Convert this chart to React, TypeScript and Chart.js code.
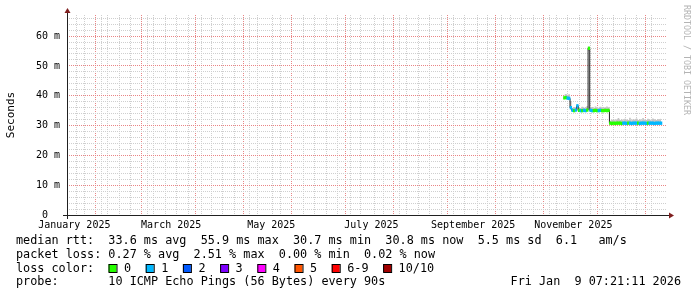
import React, { useEffect, useRef } from "react";
import { Chart, registerables } from "chart.js";

Chart.register(...registerables);

// ---- graph time window: "Last 360 Days" ending Fri Jan 9 07:21:11 2026 ----
const GRAPH_START = "2025-01-14T07:21:11Z";
const GRAPH_DAYS = 360;

// ---- daily samples (first one on Nov 10 2025) ----
const FIRST_SAMPLE = "2025-11-10T12:00:00Z";

const MEDIAN_MS = [
  39.3, 39.4, 39.2, 39.1, 36.0, 35.1, 35.0, 35.2, 36.6, 35.1,
  35.0, 35.0, 35.1, 35.0, 35.2, 55.9, 35.1, 35.0, 35.0, 35.1,
  35.0, 35.0, 35.1, 35.0, 35.0, 35.1, 35.0, 35.1, 30.8, 30.7,
  30.8, 30.7, 30.8, 30.8, 30.8, 30.7, 30.8, 30.8, 30.7, 30.8,
  30.8, 30.7, 30.8, 30.8, 30.8, 30.8, 30.7, 30.8, 30.8, 30.8,
  30.7, 30.8, 30.8, 30.8, 30.8, 30.7, 30.8, 30.8, 30.8, 30.8,
];

// lost pings per sample (index into LOSS_COLORS)
const LOSS = [
  0, 0, 1, 1, 1, 1, 0, 1, 1, 0,
  1, 0, 1, 1, 0, 0, 1, 1, 0, 0,
  0, 1, 1, 0, 0, 0, 0, 0, 0, 0,
  0, 0, 0, 0, 0, 0, 1, 1, 1, 0,
  1, 1, 1, 1, 1, 0, 1, 1, 1, 1,
  1, 0, 1, 1, 1, 1, 1, 1, 1, 1,
];

const SMOKE_LO = [
  38.9, 39.0, 38.8, 38.7, 35.5, 34.8, 34.7, 34.8, 35.0, 34.8,
  34.7, 34.7, 34.8, 34.7, 34.8, 55.0, 34.8, 34.7, 34.7, 34.8,
  34.7, 34.7, 34.8, 34.7, 34.7, 34.8, 34.7, 34.8, 30.5, 30.4,
  30.5, 30.4, 30.5, 30.5, 30.5, 30.4, 30.5, 30.5, 30.4, 30.5,
  30.5, 30.4, 30.5, 30.5, 30.5, 30.5, 30.4, 30.5, 30.5, 30.5,
  30.4, 30.5, 30.5, 30.5, 30.5, 30.4, 30.5, 30.5, 30.5, 30.5,
];

const SMOKE_HI = [
  40.4, 40.6, 40.3, 40.5, 38.2, 35.9, 36.2, 36.0, 37.2, 36.1,
  35.9, 36.3, 36.0, 36.2, 36.6, 56.5, 36.0, 36.2, 35.9, 36.4,
  36.1, 36.0, 36.3, 35.9, 36.2, 36.0, 36.4, 36.1, 31.6, 31.9,
  32.2, 31.8, 32.0, 32.5, 31.9, 32.1, 31.8, 32.3, 32.0, 31.9,
  32.6, 31.8, 32.1, 32.0, 32.4, 31.9, 32.2, 31.8, 32.5, 32.0,
  31.9, 32.3, 32.0, 31.8, 32.4, 32.1, 31.9, 32.2, 32.0, 32.3,
];

// ---- axes ----
const Y_MAX = 67.08;
const Y_LABEL_VALUES = [0, 10, 20, 30, 40, 50, 60];
const Y_LABELS = ["0  ", "10 m", "20 m", "30 m", "40 m", "50 m", "60 m"];
const X_LABEL_DATES = [
  "2025-01-16T00:00:00Z", "2025-03-16T00:00:00Z", "2025-05-16T00:00:00Z",
  "2025-07-16T00:00:00Z", "2025-09-16T00:00:00Z", "2025-11-16T00:00:00Z",
];
const X_LABELS = ["January 2025", "March 2025", "May 2025", "July 2025", "September 2025", "November 2025"];

// ---- legend ----
const LOSS_COLORS = ["#26ff00", "#00b8ff", "#0059ff", "#7e00ff", "#ff00ff", "#ff5500", "#ff0000", "#a10000"];
const LOSS_LABELS = ["0", "1", "2", "3", "4", "5", "6-9", "10/10"];
const LINE_RTT = "median rtt:  33.6 ms avg  55.9 ms max  30.7 ms min  30.8 ms now  5.5 ms sd  6.1   am/s";
const LINE_LOSS = "packet loss: 0.27 % avg  2.51 % max  0.00 % min  0.02 % now";
const LINE_COLOR = "loss color:";
const LINE_PROBE = "probe:       10 ICMP Echo Pings (56 Bytes) every 90s";
const LINE_DATE = "Fri Jan  9 07:21:11 2026";
const WATERMARK = "RRDTOOL / TOBI OETIKER";

const MONO = '"DejaVu Sans Mono", monospace';
const GRID = "#cfcfcf";
const MGRID = "#e98585";
const AXIS = "#202020";
const ARROW = "#7f1f1f";
const SMOKE = "#c4c4c4";

const DAY = 86400000;
const T0 = Date.parse(GRAPH_START);
const toDay = (ms: number) => (ms - T0) / DAY;
const key = (v: number) => v.toFixed(4);

// sample positions (days since graph start)
const SAMPLE_X = MEDIAN_MS.map((_, i) => toDay(Date.parse(FIRST_SAMPLE) + i * DAY));

// x grid: weekly (Sundays) minor, month starts major, labels mid-month
type XT = { grid: "" | "minor" | "major"; label: string };
const xTickMap = new Map<string, { value: number } & XT>();
const addX = (v: number, grid: XT["grid"], label: string) => {
  const k = key(v);
  const cur = xTickMap.get(k) || { value: v, grid: "" as XT["grid"], label: "" };
  if (grid === "major" || (grid === "minor" && cur.grid !== "major")) cur.grid = grid;
  if (label) cur.label = label;
  xTickMap.set(k, cur);
};
for (let t = Date.UTC(2025, 0, 19); toDay(t) < GRAPH_DAYS; t += 7 * DAY) addX(toDay(t), "minor", "");
for (let m = 1; m <= 12; m++) addX(toDay(Date.UTC(2025, m, 1)), "major", "");
X_LABEL_DATES.forEach((d, i) => addX(toDay(Date.parse(d)), "", X_LABELS[i]));
const X_TICKS = Array.from(xTickMap.values()).sort((a, b) => a.value - b.value);

const Y_TICKS: number[] = [];
for (let v = 0; v < Y_MAX; v += 2) Y_TICKS.push(v);

const overlay = {
  id: "rrdOverlay",
  afterDraw(chart: any) {
    const ctx: CanvasRenderingContext2D = chart.ctx;
    const { left, right, top, bottom } = chart.chartArea;
    ctx.save();
    // axes
    ctx.strokeStyle = AXIS;
    ctx.lineWidth = 1;
    ctx.beginPath();
    ctx.moveTo(left - 4, bottom + 0.5);
    ctx.lineTo(right + 4, bottom + 0.5);
    ctx.moveTo(left + 0.5, bottom + 4);
    ctx.lineTo(left + 0.5, top - 4);
    ctx.stroke();
    // arrows
    ctx.fillStyle = ARROW;
    ctx.beginPath();
    ctx.moveTo(right + 2, bottom - 3 + 0.5);
    ctx.lineTo(right + 2, bottom + 3 + 0.5);
    ctx.lineTo(right + 7, bottom + 0.5);
    ctx.closePath();
    ctx.fill();
    ctx.beginPath();
    ctx.moveTo(left - 3 + 0.5, top - 2);
    ctx.lineTo(left + 3 + 0.5, top - 2);
    ctx.lineTo(left + 0.5, top - 7);
    ctx.closePath();
    ctx.fill();

    // legend text
    ctx.font = `11.8px ${MONO}`;
    ctx.fillStyle = "#000";
    ctx.textBaseline = "middle";
    ctx.textAlign = "left";
    ctx.fillText(LINE_RTT, 16, 241);
    ctx.fillText(LINE_LOSS, 16, 255);
    ctx.fillText(LINE_COLOR, 16, 268.5);
    ctx.fillText(LINE_PROBE, 16, 282);
    ctx.textAlign = "right";
    ctx.fillText(LINE_DATE, 681, 282);
    ctx.textAlign = "left";
    const cw = ctx.measureText("0").width;
    let x = 108.5;
    LOSS_LABELS.forEach((lab, i) => {
      ctx.fillStyle = LOSS_COLORS[i];
      ctx.fillRect(x, 264, 8, 8);
      ctx.strokeStyle = "#000";
      ctx.strokeRect(x + 0.5, 264.5, 8, 8);
      ctx.fillStyle = "#000";
      ctx.fillText(lab, x + 15.5, 268.5);
      x += 15.5 + lab.length * cw + 14.6;
    });

    // watermark
    ctx.font = `8.3px ${MONO}`;
    ctx.fillStyle = "#b4b4b4";
    ctx.translate(686, 5);
    ctx.rotate(Math.PI / 2);
    ctx.textBaseline = "middle";
    ctx.textAlign = "left";
    ctx.fillText(WATERMARK, 0, 0);
    ctx.restore();
  },
};

export default function App() {
  const ref = useRef<HTMLCanvasElement>(null);
  useEffect(() => {
    const canvas = ref.current;
    if (!canvas) return;
    const medianPts = MEDIAN_MS.map((v, i) => ({ x: SAMPLE_X[i], y: v }));
    const loPts = SMOKE_LO.map((v, i) => ({ x: SAMPLE_X[i], y: v }));
    const hiPts = SMOKE_HI.map((v, i) => ({ x: SAMPLE_X[i], y: v }));
    const bandPts = MEDIAN_MS.map((v, i) => ({ x: SAMPLE_X[i], y: [v - 0.45, v + 0.45] }));

    const chart = new Chart(canvas, {
      type: "line",
      data: {
        datasets: [
          { label: "smoke low", data: loPts, borderColor: "transparent", borderWidth: 0, pointRadius: 0, stepped: "middle", fill: false, order: 4 } as any,
          { label: "smoke", data: hiPts, borderColor: "transparent", borderWidth: 0, pointRadius: 0, stepped: "middle", fill: "-1", backgroundColor: SMOKE, order: 3 } as any,
          { label: "median rtt", data: medianPts, borderColor: AXIS, borderWidth: 1, pointRadius: 0, stepped: "middle", fill: false, order: 2 } as any,
          {
            type: "bar", label: "loss color", data: bandPts,
            backgroundColor: LOSS.map((l) => LOSS_COLORS[l]),
            borderWidth: 0, barPercentage: 1, categoryPercentage: 1, order: 1,
          } as any,
        ],
      },
      options: {
        animation: false,
        responsive: false,
        devicePixelRatio: 1,
        events: [],
        layout: { padding: { top: 15, right: 30, bottom: 62, left: 0 } },
        plugins: { legend: { display: false }, tooltip: { enabled: false }, title: { display: false } },
        scales: {
          x: {
            type: "linear",
            min: 0,
            max: GRAPH_DAYS,
            bounds: "data",
            afterBuildTicks: (s: any) => { s.ticks = X_TICKS.map((t) => ({ value: t.value })); },
            afterFit: (s: any) => { s.height = 20; },
            grid: {
              drawTicks: false,
              lineWidth: 1,
              color: (c: any) => {
                const t = c.tick && xTickMap.get(key(c.tick.value));
                if (!t) return "rgba(0,0,0,0)";
                return t.grid === "major" ? MGRID : t.grid === "minor" ? GRID : "rgba(0,0,0,0)";
              },
            },
            border: { display: false, dash: [1, 1] },
            ticks: {
              autoSkip: false, maxRotation: 0, minRotation: 0, padding: 4, color: "#000",
              font: { family: MONO, size: 10 },
              callback: (v: any) => { const t = xTickMap.get(key(Number(v))); return t ? t.label : ""; },
            },
          },
          y: {
            type: "linear",
            min: 0,
            max: Y_MAX,
            bounds: "data",
            afterBuildTicks: (s: any) => { s.ticks = Y_TICKS.map((v) => ({ value: v })); },
            afterFit: (s: any) => { s.width = 67; },
            grid: {
              drawTicks: false,
              lineWidth: 1,
              color: (c: any) => {
                const v = c.tick ? c.tick.value : 0;
                if (v === 0) return "rgba(0,0,0,0)";
                return Math.abs(v % 10) < 1e-6 ? MGRID : GRID;
              },
            },
            border: { display: false, dash: [1, 1] },
            ticks: {
              autoSkip: false, padding: 7, color: "#000",
              font: { family: MONO, size: 10 },
              callback: (v: any) => { const i = Y_LABEL_VALUES.indexOf(Number(v)); return i >= 0 ? Y_LABELS[i] : ""; },
            },
            title: { display: true, text: "Seconds", color: "#000", font: { family: MONO, size: 11 }, padding: { top: 4.5, bottom: 0 } },
          },
        },
      } as any,
      plugins: [overlay],
    });
    return () => chart.destroy();
  }, []);
  return (
    <canvas
      ref={ref}
      width={697}
      height={297}
      style={{ position: "absolute", left: 0, top: 0, width: 697, height: 297, display: "block", background: "#fff" }}
    />
  );
}
